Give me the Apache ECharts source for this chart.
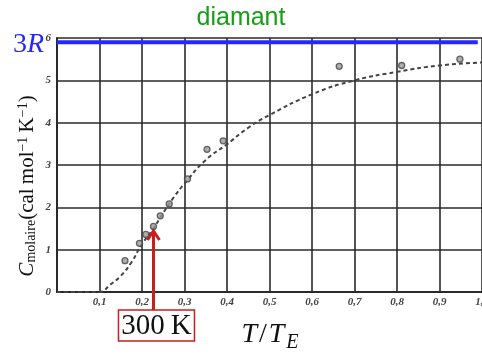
<!DOCTYPE html>
<html>
<head>
<meta charset="utf-8">
<script src="https://cdn.jsdelivr.net/npm/echarts@6/dist/echarts.min.js"></script>
<style>
  html, body { margin: 0; padding: 0; background: #fff; }
  #chart { width: 482px; height: 354px; }
</style>
</head>
<body>
<div id="chart"></div>
<script>
// measured points: reduced temperature T/T_E and molar heat capacity (cal/mol/K)
var pointsT = [0.160, 0.194, 0.209, 0.227, 0.243, 0.264, 0.307, 0.353, 0.391, 0.664, 0.811, 0.948];
var pointsC = [0.74, 1.15, 1.36, 1.55, 1.80, 2.08, 2.67, 3.37, 3.57, 5.33, 5.35, 5.50];

// dashed Einstein curve
var curveT = [0, 0.05, 0.1, 0.125, 0.15, 0.175, 0.2, 0.225, 0.25, 0.275, 0.3, 0.35, 0.4, 0.45, 0.5, 0.6, 0.7, 0.8, 0.9, 1.0];
var curveC = [0, 0, 0, 0.17, 0.38, 0.70, 1.13, 1.47, 1.87, 2.24, 2.56, 3.12, 3.49, 3.88, 4.18, 4.67, 5.0, 5.2, 5.35, 5.42];

// Dulong-Petit limit 3R and the 300 K marker
var limitT = [0, 0.99];
var limitC = [5.9, 5.9];
var roomT = 0.227;
var roomC = 1.44;

var xTickLabels = ["", "0,1", "0,2", "0,3", "0,4", "0,5", "0,6", "0,7", "0,8", "0,9", "1,0"];
var yTickLabels = ["0", "1", "2", "3", "4", "5", "6"];

var serif = "'Liberation Serif', 'DejaVu Serif', serif";
var red = "#c81e1e";

var chart = echarts.init(document.getElementById("chart"));

function zip(a, b) {
  return a.map(function (v, i) { return [v, b[i]]; });
}

var option = {
  animation: false,
  backgroundColor: "#fff",
  title: {
    text: "diamant",
    left: "center",
    top: 1,
    textStyle: {
      color: "#14a014",
      fontFamily: "'Liberation Sans', Arial, sans-serif",
      fontWeight: "normal",
      fontSize: 25
    }
  },
  grid: { left: 57, right: 0, top: 38, bottom: 62, outerBoundsMode: "none" },
  xAxis: {
    type: "value",
    min: 0,
    max: 1,
    interval: 0.1,
    name: "{i|T}{n|/}{i|T}{sub|E}",
    nameLocation: "middle",
    nameGap: 29,
    nameTextStyle: {
      rich: {
        i: { fontFamily: serif, fontStyle: "italic", fontSize: 28, color: "#111", lineHeight: 28, verticalAlign: "top", padding: [0, 2, 0, 1] },
        n: { fontFamily: serif, fontSize: 28, color: "#111", lineHeight: 28, verticalAlign: "top", padding: [0, 1, 0, 0] },
        sub: { fontFamily: serif, fontStyle: "italic", fontSize: 20, color: "#111", lineHeight: 20, verticalAlign: "top", padding: [12, 0, 0, 0] }
      }
    },
    axisLine: { show: true, lineStyle: { color: "#2a2a2a", width: 2 } },
    axisTick: { show: false },
    splitLine: { show: true, lineStyle: { color: "#2a2a2a", width: 1.6 } },
    axisLabel: {
      margin: 5,
      fontFamily: serif,
      fontStyle: "italic",
      fontWeight: "bold",
      fontSize: 11,
      color: "#444",
      formatter: function (v) { return xTickLabels[Math.round(v * 10)]; }
    }
  },
  yAxis: {
    type: "value",
    min: 0,
    max: 6,
    interval: 1,
    axisLine: { show: true, lineStyle: { color: "#2a2a2a", width: 2 } },
    axisTick: { show: false },
    splitLine: { show: true, lineStyle: { color: "#2a2a2a", width: 1.6 } },
    axisLabel: {
      margin: 6,
      fontFamily: serif,
      fontStyle: "italic",
      fontWeight: "bold",
      fontSize: 11,
      color: "#444",
      formatter: function (v) { return yTickLabels[Math.round(v)]; }
    }
  },
  series: [
    {
      name: "Einstein",
      type: "line",
      data: zip(curveT, curveC),
      smooth: true,
      showSymbol: false,
      lineStyle: { color: "#444", width: 2, type: [4, 3] },
      z: 3
    },
    {
      name: "mesures",
      type: "scatter",
      data: zip(pointsT, pointsC),
      symbol: "circle",
      symbolSize: 6,
      itemStyle: { color: "#9a9a9a", borderColor: "#444", borderWidth: 1.3 },
      z: 4
    },
    {
      name: "3R",
      type: "line",
      data: zip(limitT, limitC),
      showSymbol: false,
      lineStyle: { color: "#2626ff", width: 4 },
      z: 5
    }
  ]
};

chart.setOption(option);

// annotations placed through the axes' own scales
var limitPx = chart.convertToPixel({ gridIndex: 0 }, [0, limitC[0]]);
var tipPx = chart.convertToPixel({ gridIndex: 0 }, [roomT, roomC]);
var basePx = chart.convertToPixel({ gridIndex: 0 }, [roomT, 0]);
var boxTop = basePx[1] + 18;
var boxW = 76, boxH = 31;

chart.setOption({
  graphic: [
    {
      type: "text",
      x: limitPx[0] - 13,
      y: limitPx[1] + 2,
      style: {
        text: "{n|3}{i|R}",
        align: "right",
        verticalAlign: "middle",
        rich: {
          n: { fontFamily: serif, fontSize: 28, fill: "#2626ff" },
          i: { fontFamily: serif, fontStyle: "italic", fontSize: 28, fill: "#2626ff" }
        }
      },
      z: 10
    },
    {
      type: "text",
      x: 27,
      y: 186,
      rotation: Math.PI / 2,
      style: {
        text: "{c|C}{sub|molaire}{n|(cal\u2009mol}{sup|\u22121}{n|\u2009K}{sup|\u22121}{n|)}",
        align: "center",
        verticalAlign: "middle",
        rich: {
          c: { fontFamily: serif, fontStyle: "italic", fontSize: 21, fill: "#111", lineHeight: 22, verticalAlign: "middle" },
          n: { fontFamily: serif, fontSize: 21, fill: "#111", lineHeight: 22, verticalAlign: "middle" },
          sub: { fontFamily: serif, fontSize: 14, fill: "#111", lineHeight: 14, verticalAlign: "bottom" },
          sup: { fontFamily: serif, fontSize: 14, fill: "#111", lineHeight: 14, verticalAlign: "top" }
        }
      },
      z: 10
    },
    {
      type: "polyline",
      shape: { points: [[tipPx[0], boxTop], [tipPx[0], tipPx[1] + 2]] },
      style: { stroke: red, lineWidth: 3, fill: null },
      z: 10
    },
    {
      type: "polyline",
      shape: { points: [[tipPx[0] - 6, tipPx[1] + 9], [tipPx[0], tipPx[1]], [tipPx[0] + 6, tipPx[1] + 9]] },
      style: { stroke: red, lineWidth: 3, fill: null, lineJoin: "miter" },
      z: 10
    },
    {
      type: "rect",
      shape: { x: tipPx[0] - boxW / 2 + 3, y: boxTop, width: boxW, height: boxH },
      style: { stroke: red, lineWidth: 1.5, fill: "#fff" },
      z: 10
    },
    {
      type: "text",
      x: tipPx[0] + 3,
      y: boxTop + boxH / 2 + 1,
      style: {
        text: "300\u2009K",
        align: "center",
        verticalAlign: "middle",
        fontFamily: serif,
        fontSize: 29,
        fill: "#111"
      },
      z: 11
    }
  ]
});

window.addEventListener("resize", chart.resize);
</script>
</body>
</html>
